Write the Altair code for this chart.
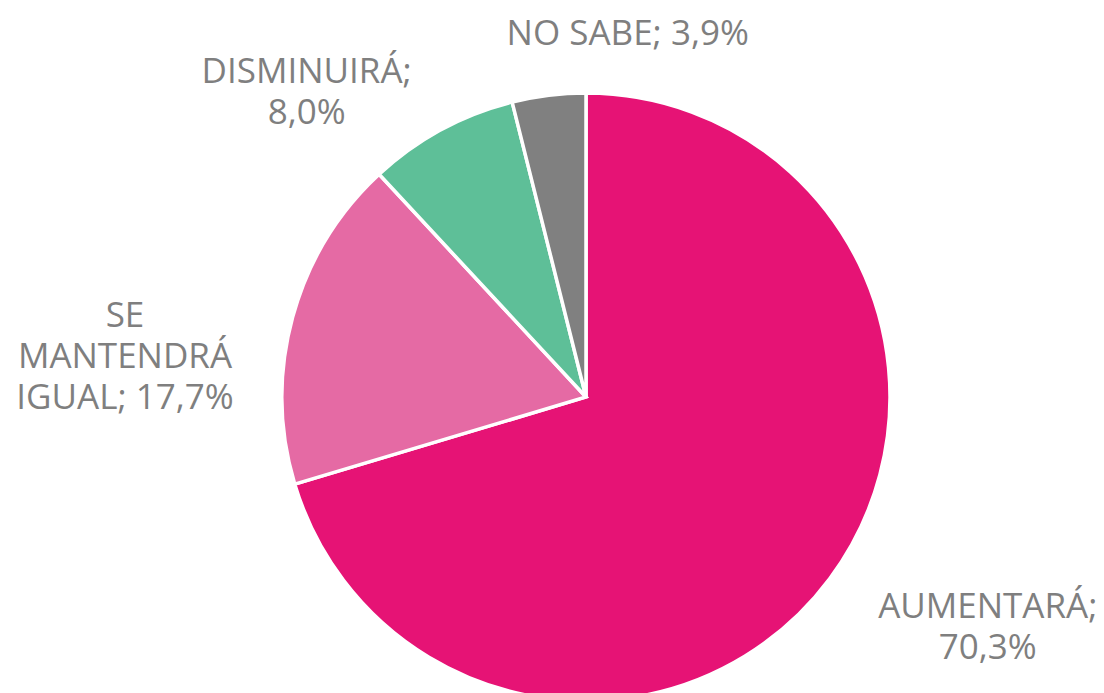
import altair as alt
import pandas as pd

# ---- data ----
categories = ["AUMENTARÁ", "SE MANTENDRÁ IGUAL", "DISMINUIRÁ", "NO SABE"]
values = [70.3, 17.7, 8.0, 3.9]
label_lines = [
    ["AUMENTARÁ;", "70,3%"],
    ["SE", "MANTENDRÁ", "IGUAL; 17,7%"],
    ["DISMINUIRÁ;", "8,0%"],
    ["NO SABE; 3,9%"],
]

# ---- styling ----
colors = ["#E61375", "#E56AA4", "#5EBF98", "#808080"]
text_color = "#7F7F7F"
label_nudges = [(105, 0), (-104, 27), (-103, 11), (87, 15)]  # dx, dy per label

total = sum(values)
cum = 0.0
mids = []
for v in values:
    mids.append(cum + v / 2)
    cum += v

df = pd.DataFrame({
    "idx": list(range(len(categories))),
    "category": categories,
    "value": values,
    "mid": mids,
    "label": ["\n".join(l) for l in label_lines],
})

cx, cy = 578, 389
theta_scale = alt.Scale(domain=[0, total])

base = alt.Chart(df)

pie = base.mark_arc(outerRadius=304, stroke="white", strokeWidth=3.5).encode(
    theta=alt.Theta("value:Q", stack=True, scale=theta_scale),
    order=alt.Order("idx:Q"),
    color=alt.Color("category:N", scale=alt.Scale(domain=categories, range=colors), legend=None),
    x=alt.value(cx),
    y=alt.value(cy),
)

layers = [pie]
for i, (dx, dy) in enumerate(label_nudges):
    layers.append(
        base.transform_filter(alt.datum.idx == i)
        .mark_text(
            radius=370, dx=dx, dy=dy, align="center", baseline="alphabetic",
            lineBreak="\n", lineHeight=41, font="Open Sans", fontSize=35, color=text_color,
        )
        .encode(
            theta=alt.Theta("mid:Q", scale=theta_scale),
            text="label:N",
            x=alt.value(cx),
            y=alt.value(cy),
        )
    )

chart = alt.layer(*layers).properties(
    width=1088, height=685, autosize="none", padding=0
).configure_view(stroke=None)

chart.save("out.html", embed_options={"renderer": "svg", "actions": False})
